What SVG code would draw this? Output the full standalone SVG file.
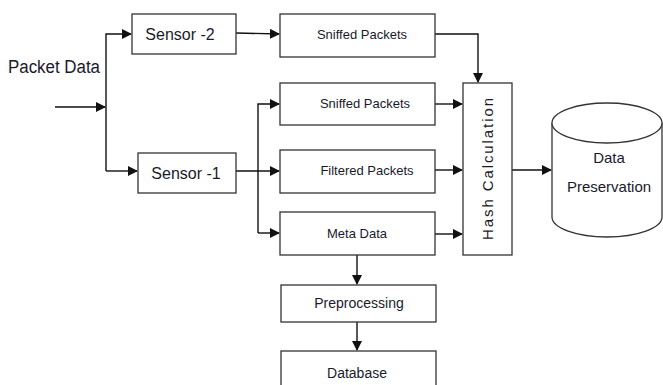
<svg xmlns="http://www.w3.org/2000/svg" width="663" height="385" viewBox="0 0 663 385">
<style>
.box{fill:#fff;stroke:#333;stroke-width:1.3}
.t{font-family:"Liberation Sans",Arial,sans-serif;fill:#1a1a2a}
.c{fill:none;stroke:#111;stroke-width:1.4}
</style>
<defs>
<marker id="ah" markerWidth="10" markerHeight="10" refX="9" refY="5" orient="auto" markerUnits="userSpaceOnUse">
<path d="M0,0 L10,5 L0,10 Z" fill="#111"/>
</marker>
</defs>
<rect width="663" height="385" fill="#fff"/>
<text class="t" x="8" y="73" font-size="18" textLength="92" lengthAdjust="spacingAndGlyphs">Packet Data</text>
<g id="connectors">
<path class="c" d="M55,107 H105" marker-end="url(#ah)"/>
<path class="c" d="M106,171 V34 H131" marker-end="url(#ah)"/>
<path class="c" d="M106,171 H137" marker-end="url(#ah)"/>
<path class="c" d="M236,33 L279,34" marker-end="url(#ah)"/>
<path class="c" d="M236,171 H279" marker-end="url(#ah)"/>
<path class="c" d="M258,233 V104 H279" marker-end="url(#ah)"/>
<path class="c" d="M258,233 H279" marker-end="url(#ah)"/>
<path class="c" d="M435,34 H478 V82" marker-end="url(#ah)"/>
<path class="c" d="M435,104 H462" marker-end="url(#ah)"/>
<path class="c" d="M435,170 H462" marker-end="url(#ah)"/>
<path class="c" d="M435,234 H462" marker-end="url(#ah)"/>
<path class="c" d="M512,170 H551" marker-end="url(#ah)"/>
<path class="c" d="M357,255 V284" marker-end="url(#ah)"/>
<path class="c" d="M357,322 V350" marker-end="url(#ah)"/>
</g>
<g id="sensor2"><rect class="box" x="132" y="14" width="104" height="40"/><text class="t" x="180" y="40" font-size="16" text-anchor="middle">Sensor -2</text></g>
<g id="sensor1"><rect class="box" x="138" y="153" width="98" height="40"/><text class="t" x="186" y="179" font-size="16" text-anchor="middle">Sensor -1</text></g>
<g id="sniffed1"><rect class="box" x="280" y="14" width="155" height="43"/><text class="t" x="362" y="39" font-size="13" text-anchor="middle">Sniffed  Packets</text></g>
<g id="sniffed2"><rect class="box" x="280" y="83" width="155" height="42"/><text class="t" x="365" y="108" font-size="13" text-anchor="middle">Sniffed  Packets</text></g>
<g id="filtered"><rect class="box" x="280" y="150" width="155" height="43"/><text class="t" x="367" y="175" font-size="13" text-anchor="middle">Filtered Packets</text></g>
<g id="meta"><rect class="box" x="280" y="212" width="155" height="43"/><text class="t" x="357" y="238" font-size="13" text-anchor="middle">Meta Data</text></g>
<g id="hash"><rect class="box" x="463" y="83" width="49" height="172"/><text class="t" x="0" y="0" font-size="15" text-anchor="middle" textLength="142" lengthAdjust="spacing" transform="translate(493,169) rotate(-90)">Hash Calculation</text></g>
<g id="preservation">
<path class="box" d="M552,123 V217 A55,20 0 0 0 662,217 V123"/>
<ellipse class="box" cx="607" cy="123" rx="55" ry="20"/>
<text class="t" x="609" y="163" font-size="15" text-anchor="middle">Data</text>
<text class="t" x="609" y="192" font-size="15" text-anchor="middle">Preservation</text>
</g>
<g id="preprocessing"><rect class="box" x="281" y="285" width="155" height="37"/><text class="t" x="359" y="308" font-size="14" text-anchor="middle">Preprocessing</text></g>
<g id="database"><rect class="box" x="281" y="351" width="155" height="40"/><text class="t" x="357" y="378" font-size="14" text-anchor="middle">Database</text></g>
</svg>
